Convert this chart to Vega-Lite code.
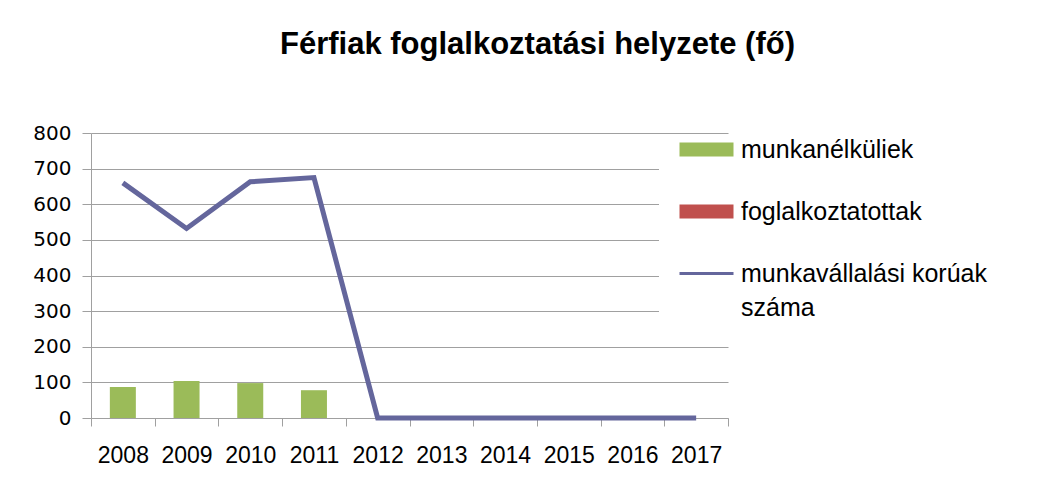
{
  "$schema": "https://vega.github.io/schema/vega-lite/v6.json",
  "width": 637,
  "height": 285,
  "autosize": {"type": "none"},
  "padding": {"left": 91, "top": 133, "right": 334, "bottom": 70},
  "background": "white",
  "title": {
    "text": "Férfiak foglalkoztatási helyzete (fő)",
    "font": "Liberation Sans",
    "fontSize": 31,
    "fontWeight": "bold",
    "color": "black",
    "anchor": "middle",
    "dx": 128,
    "offset": 62
  },
  "data": {
    "values": [
      {"year": "2008", "series": "munkanélküliek", "value": 87},
      {"year": "2009", "series": "munkanélküliek", "value": 104},
      {"year": "2010", "series": "munkanélküliek", "value": 98},
      {"year": "2011", "series": "munkanélküliek", "value": 78},
      {"year": "2008", "series": "munkavállalási korúak száma", "value": 660},
      {"year": "2009", "series": "munkavállalási korúak száma", "value": 532},
      {"year": "2010", "series": "munkavállalási korúak száma", "value": 663},
      {"year": "2011", "series": "munkavállalási korúak száma", "value": 675},
      {"year": "2012", "series": "munkavállalási korúak száma", "value": 0},
      {"year": "2013", "series": "munkavállalási korúak száma", "value": 0},
      {"year": "2014", "series": "munkavállalási korúak száma", "value": 0},
      {"year": "2015", "series": "munkavállalási korúak száma", "value": 0},
      {"year": "2016", "series": "munkavállalási korúak száma", "value": 0},
      {"year": "2017", "series": "munkavállalási korúak száma", "value": 0}
    ]
  },
  "encoding": {
    "x": {
      "field": "year",
      "type": "nominal",
      "sort": null,
      "scale": {"paddingInner": 0, "paddingOuter": 0},
      "axis": {
        "title": null,
        "labelAngle": 0,
        "tickBand": "extent",
        "tickSize": 8,
        "tickColor": "#A0A0A0",
        "domainColor": "#A0A0A0",
        "labelFont": "Liberation Sans",
        "labelFontSize": 23,
        "labelColor": "black",
        "labelPadding": 18,
        "grid": false
      }
    },
    "y": {
      "field": "value",
      "type": "quantitative",
      "scale": {"domain": [0, 800], "nice": false},
      "axis": {
        "title": null,
        "values": [0, 100, 200, 300, 400, 500, 600, 700, 800],
        "tickSize": 9,
        "tickColor": "#A0A0A0",
        "domainColor": "#A0A0A0",
        "gridColor": "#A0A0A0",
        "labelFont": "DejaVu Sans",
        "labelFontSize": 20,
        "labelColor": "black",
        "labelPadding": 11
      }
    },
    "color": {
      "field": "series",
      "type": "nominal",
      "scale": {
        "domain": ["munkanélküliek", "foglalkoztatottak", "munkavállalási korúak száma"],
        "range": ["#9BBB59", "#C0504D", "#64669C"]
      },
      "legend": {
        "orient": "none",
        "legendX": 568,
        "legendY": 2,
        "title": null,
        "fillColor": "white",
        "padding": 2,
        "symbolOffset": 33,
        "symbolSize": 400,
        "symbolType": "M-2.7,-0.7H2.7V0.7H-2.7Z",
        "symbolStrokeWidth": 0,
        "labelFont": "Liberation Sans",
        "labelFontSize": 25,
        "labelColor": "black",
        "labelOffset": 22,
        "labelLimit": 400,
        "rowPadding": 36,
        "labelExpr": "datum.label === 'munkavállalási korúak száma' ? ['munkavállalási korúak', 'száma'] : datum.label",
        "encode": {
          "symbols": {
            "update": {
              "shape": {"signal": "datum.value === 'munkavállalási korúak száma' ? 'M-2.7,-0.14H2.7V0.14H-2.7Z' : 'M-2.7,-0.7H2.7V0.7H-2.7Z'"},
              "fill": {"scale": "color", "field": "value"},
              "stroke": {"value": "transparent"},
              "opacity": {"value": 1}
            }
          },
          "labels": {
            "update": {
              "lineHeight": {"value": 34}
            }
          }
        }
      }
    }
  },
  "layer": [
    {
      "transform": [{"filter": "datum.series === 'munkanélküliek'"}],
      "mark": {"type": "bar", "width": 26}
    },
    {
      "transform": [{"filter": "datum.series === 'munkavállalási korúak száma'"}],
      "mark": {"type": "line", "strokeWidth": 5}
    }
  ],
  "config": {
    "view": {"stroke": null}
  }
}
